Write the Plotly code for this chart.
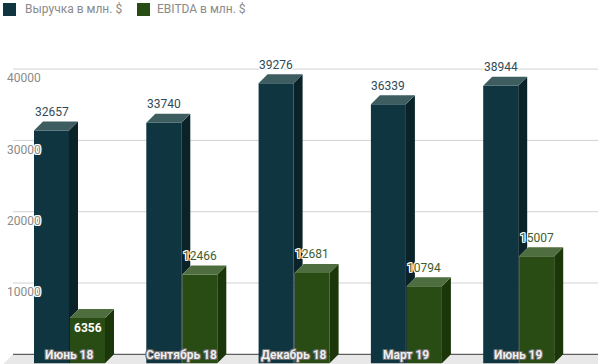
import plotly.graph_objects as go

# ---------------- data ----------------
CATEGORIES = ["Июнь 18", "Сентябрь 18", "Декабрь 18", "Март 19", "Июнь 19"]
REVENUE = [32657, 33740, 39276, 36339, 38944]
EBITDA = [6356, 12466, 12681, 10794, 15007]
SERIES_NAMES = ["Выручка в млн. $", "EBITDA в млн. $"]
Y_TICKS = [10000, 20000, 30000, 40000]
Y_TICK_LABELS = ["10000", "20000", "30000", "40000"]

# ---------------- style ----------------
FONT = "Roboto"
REV_FRONT, REV_TOP, REV_SIDE, REV_TEXT = "#0e3540", "#3e5d61", "#0a2328", "#2f4b56"
EB_FRONT, EB_TOP, EB_SIDE, EB_TEXT = "#284c14", "#4f6e3f", "#1b3609", "#3d5e2c"
GRID = "#d2d2d2"
AXIS_TEXT = "#8a8a8a"


def halo(c, w=1):
    return ", ".join(f"{dx}px {dy}px 0 {c}" for dx in (-w, 0, w) for dy in (-w, 0, w) if dx or dy)


# ---------------- geometry (pixel scale of the axes) ----------------
FIG_W, FIG_H = 598, 364
M_L, M_R, M_T, M_B = 4, 0, 40, 0
PLOT_W = FIG_W - M_L - M_R
PLOT_H = FIG_H - M_T - M_B
CAT_PX = 112.3            # pixels per category
Y_PX = 7.13 / 1000        # pixels per value unit
FIRST_CAT_PX = 65         # first category centre from plot left
ZERO_PX = 0.7             # zero from plot bottom
x_range = [-FIRST_CAT_PX / CAT_PX, (PLOT_W - FIRST_CAT_PX) / CAT_PX]
y_range = [-ZERO_PX / Y_PX, (PLOT_H - ZERO_PX) / Y_PX]
UX = 1 / CAT_PX
UY = 1 / Y_PX
DEPTH = 9
DX, DY = DEPTH * UX, DEPTH * UY
BW = 35 * UX
GAP = 1 * UX

idx = list(range(len(CATEGORIES)))

fig = go.Figure()

# front faces
fig.add_trace(go.Bar(x=idx, y=REVENUE, width=BW, offset=-BW, marker=dict(color=REV_FRONT, line=dict(width=0)),
                     name=SERIES_NAMES[0], showlegend=False, hoverinfo="y"))
fig.add_trace(go.Bar(x=idx, y=EBITDA, width=BW, offset=GAP, marker=dict(color=EB_FRONT, line=dict(width=0)),
                     name=SERIES_NAMES[1], showlegend=False, hoverinfo="y"))


def poly_trace(xs, ys, color):
    return go.Scatter(x=xs, y=ys, mode="lines", fill="toself", fillcolor=color,
                      line=dict(width=0, color=color), hoverinfo="skip", showlegend=False)


# revenue top & (partly hidden) side
tx, ty, sx, sy = [], [], [], []
for i, v, e in zip(idx, REVENUE, EBITDA):
    x0, x1 = i - BW, i
    tx += [x0, x1, x1 + DX, x0 + DX, x0, None]
    ty += [v, v, v + DY, v + DY, v, None]
    sx += [x1, x1, x1 + DX, x1 + DX, x1 + GAP, x1 + GAP, x1, None]
    sy += [0, v, v + DY, e + (DEPTH - 1) * UY, e, 0, 0, None]
fig.add_trace(poly_trace(sx, sy, REV_SIDE))
fig.add_trace(poly_trace(tx, ty, REV_TOP))

# ebitda top & side
tx, ty, sx, sy = [], [], [], []
for i, e in zip(idx, EBITDA):
    x0, x1 = i + GAP, i + GAP + BW
    tx += [x0, x1, x1 + DX, x0 + DX, x0, None]
    ty += [e, e, e + DY, e + DY, e, None]
    sx += [x1, x1 + DX, x1 + DX, x1, x1, None]
    sy += [0, DY, e + DY, e, 0, None]
fig.add_trace(poly_trace(sx, sy, EB_SIDE))
fig.add_trace(poly_trace(tx, ty, EB_TOP))

# floor, back baseline and grid (back plane)
xl, xr = x_range
shapes = [
    dict(type="path", xref="x", yref="y", layer="below", line=dict(width=0), fillcolor="#e8e8e8",
         path=f"M{xl},{y_range[0]} L{xl},0 L{xl + DX},{DY} L{xr},{DY} L{xr},{y_range[0]} Z"),
    dict(type="line", xref="x", yref="y", layer="below", x0=xl + DX, x1=xr, y0=DY, y1=DY,
         line=dict(color="#3a3a3a", width=1)),
]
for t in Y_TICKS:
    shapes.append(dict(type="line", xref="x", yref="y", layer="below", x0=xl + DX, x1=xr,
                       y0=t + DY, y1=t + DY, line=dict(color=GRID, width=1)))

annotations = []
# value labels
for i, v in zip(idx, REVENUE):
    annotations.append(dict(x=i - BW / 2, y=v, text=str(v), showarrow=False, xref="x", yref="y",
                            yanchor="middle", yshift=18.5,
                            font=dict(family=FONT, size=12, color=REV_TEXT, shadow=halo("#ffffff"))))
for i, e in zip(idx, EBITDA):
    inside = e * Y_PX < 60
    annotations.append(dict(x=i + GAP + BW / 2, y=e, text=str(e), showarrow=False, xref="x", yref="y",
                            yanchor="middle", yshift=-10 if inside else 18.5,
                            font=dict(family=FONT, size=12, color="#ffffff" if inside else EB_TEXT,
                                      weight=700 if inside else 400,
                                      shadow="none" if inside else halo("#ffffff"))))
# category labels
for i, c in zip(idx, CATEGORIES):
    annotations.append(dict(x=i, y=0, text=c, showarrow=False, xref="x", yref="y", yanchor="middle",
                            yshift=8.5, font=dict(family=FONT, size=12, color="#eeeeee", weight=700,
                                                  shadow=halo("#6a6a6a"))))


# manual legend
def px_x(p):
    return (p - M_L) / PLOT_W


def px_y(p):
    return (FIG_H - M_B - p) / PLOT_H


legend_items = [(SERIES_NAMES[0], REV_FRONT, 3, 23), (SERIES_NAMES[1], EB_FRONT, 137, 155)]
for name, col, sq, tx0 in legend_items:
    shapes.append(dict(type="rect", xref="paper", yref="paper", x0=px_x(sq), x1=px_x(sq + 13),
                       y0=px_y(16), y1=px_y(3), fillcolor=col, line=dict(width=0)))
    annotations.append(dict(x=px_x(tx0), y=px_y(9.5), xref="paper", yref="paper", text=name,
                            showarrow=False, xanchor="left", yanchor="middle",
                            font=dict(family=FONT, size=12, color=AXIS_TEXT)))

fig.update_layout(
    width=FIG_W, height=FIG_H,
    margin=dict(l=M_L, r=M_R, t=M_T, b=M_B, pad=0),
    paper_bgcolor="white", plot_bgcolor="white",
    barmode="overlay", showlegend=False,
    shapes=shapes, annotations=annotations,
    font=dict(family=FONT),
    xaxis=dict(range=x_range, showgrid=False, zeroline=False, showticklabels=False, showline=False,
               fixedrange=True),
    yaxis=dict(range=y_range, showgrid=False, zeroline=False, showline=False,
               tickmode="array", tickvals=Y_TICKS, ticktext=Y_TICK_LABELS,
               ticks="", ticklabelposition="inside", ticklabelstandoff=0,
               tickfont=dict(family=FONT, size=12, color=AXIS_TEXT, shadow=halo("#ffffff")),
               fixedrange=True),
)

fig.write_html("out.html", config={"displayModeBar": False},
               post_script="document.body.style.margin='0';document.body.style.overflow='hidden';")
